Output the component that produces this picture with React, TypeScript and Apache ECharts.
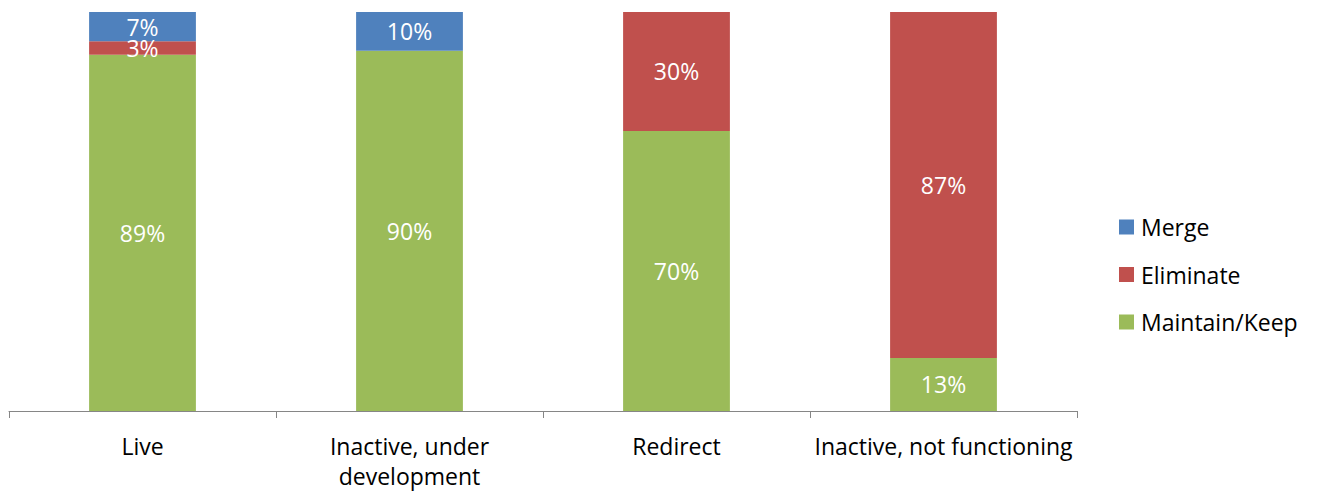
import React, { useEffect, useRef } from "react";
import * as echarts from "echarts";

const categories = ["Live", "Inactive, under\ndevelopment", "Redirect", "Inactive, not functioning"];
const maintainKeep = [89.3, 90.3, 70.2, 13.3];
const eliminate = [3.4, 0, 29.8, 86.7];
const merge = [7.3, 9.7, 0, 0];

const FONT = "'Open Sans', 'Noto Sans', sans-serif";

export default function App() {
  const ref = useRef<HTMLDivElement>(null);
  useEffect(() => {
    if (!ref.current) return;
    const chart = echarts.init(ref.current, undefined, { renderer: "svg" });
    const label = {
      show: true,
      position: "inside",
      color: "#ffffff",
      fontSize: 23,
      lineHeight: 14,
      fontFamily: FONT,
      formatter: (p: any) => (p.value > 0 ? Math.round(p.value) + "%" : ""),
    };
    chart.setOption({
      animation: false,
      grid: { left: 1, right: 1312 - 1069, top: 4, bottom: 485 - 403, containLabel: false },
      legend: {
        orient: "vertical",
        left: 1111,
        top: 207,
        padding: 0,
        itemWidth: 15,
        itemHeight: 15,
        itemGap: 23.5,
        icon: "rect",
        data: ["Merge", "Eliminate", "Maintain/Keep"],
        textStyle: { fontSize: 23, lineHeight: 24, color: "#000", fontFamily: FONT, padding: [0, 0, 0, 2] },
      },
      xAxis: {
        type: "category",
        data: categories,
        axisLine: { lineStyle: { color: "#868686", width: 1 } },
        axisTick: { show: true, length: 7, lineStyle: { color: "#868686" } },
        axisLabel: { color: "#000", fontSize: 23, lineHeight: 30, margin: 20, fontFamily: FONT, interval: 0 },
      },
      yAxis: { type: "value", min: 0, max: 100, show: false, splitLine: { show: false } },
      series: [
        { name: "Maintain/Keep", type: "bar", stack: "s", data: maintainKeep, barWidth: "40%", itemStyle: { color: "#9BBB59" }, label },
        { name: "Eliminate", type: "bar", stack: "s", data: eliminate, barWidth: "40%", itemStyle: { color: "#C0504D" }, label },
        { name: "Merge", type: "bar", stack: "s", data: merge, barWidth: "40%", itemStyle: { color: "#4F81BD" }, label },
      ],
    });
    return () => chart.dispose();
  }, []);
  return <div ref={ref} style={{ width: 1312, height: 485 }} />;
}
